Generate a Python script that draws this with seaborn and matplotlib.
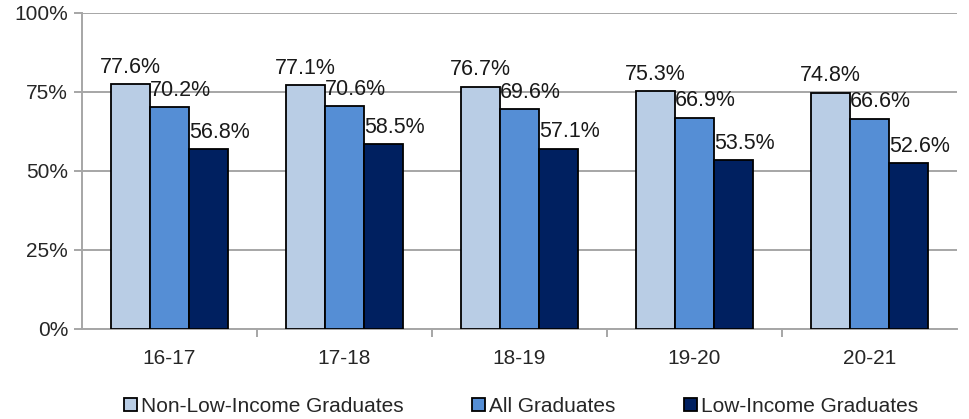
import matplotlib
matplotlib.use("Agg")
import matplotlib.pyplot as plt
import pandas as pd
import seaborn as sns
from matplotlib.ticker import PercentFormatter, FixedLocator

# data
years = ["16-17", "17-18", "18-19", "19-20", "20-21"]
series = ["Non-Low-Income Graduates", "All Graduates", "Low-Income Graduates"]
non_low_income = [77.6, 77.1, 76.7, 75.3, 74.8]
all_grads = [70.2, 70.6, 69.6, 66.9, 66.6]
low_income = [56.8, 58.5, 57.1, 53.5, 52.6]
colors = ["#B9CDE5", "#558ED5", "#002060"]

df = pd.DataFrame({
    "year": years * 3,
    "group": [s for s in series for _ in years],
    "value": non_low_income + all_grads + low_income,
})

sns.set_style("white")
plt.rcParams["font.family"] = ["Liberation Sans", "DejaVu Sans"]

fig = plt.figure(figsize=(9.69, 4.19), dpi=100)
ax = fig.add_axes([0.0846, 0.215, 0.903, 0.754])

sns.barplot(data=df, x="year", y="value", hue="group", hue_order=series,
            palette=colors, width=0.67, gap=0, edgecolor="black",
            linewidth=1.3, saturation=1, ax=ax, legend=True, zorder=3)

ax.set_ylim(0, 100)
ax.set_xlim(-0.5, len(years) - 0.5)
ax.set_yticks([0, 25, 50, 75, 100])
ax.yaxis.set_major_formatter(PercentFormatter(decimals=0))
ax.grid(axis="y", color="#A6A6A6", linewidth=1.4, zorder=0)
ax.set_axisbelow(True)
ax.set_xlabel("")
ax.set_ylabel("")

for side in ["top", "right"]:
    ax.spines[side].set_visible(False)
for side in ["left", "bottom"]:
    ax.spines[side].set_color("#A6A6A6")
    ax.spines[side].set_linewidth(1.4)

ax.tick_params(axis="y", left=True, length=6, width=1.4, color="#A6A6A6",
               labelsize=15, pad=4)
ax.tick_params(axis="x", bottom=False, labelsize=15, pad=11)
# minor ticks at the category boundaries
ax.xaxis.set_minor_locator(FixedLocator([i + 0.5 for i in range(len(years) - 1)]))
ax.tick_params(axis="x", which="minor", bottom=True, length=6, width=1.4,
               color="#A6A6A6")

# value labels
for h, cont in enumerate(ax.containers):
    for bar in cont:
        v = bar.get_height()
        if h == 0:
            x, ha = bar.get_x() + bar.get_width() / 2, "center"
        else:
            x, ha = bar.get_x(), "left"
        ax.annotate(f"{v:.1f}%", (x, v), xytext=(0, 8), textcoords="offset points",
                    ha=ha, va="baseline", fontsize=15.5, color="#1a1a1a")

handles, labels = ax.get_legend_handles_labels()
ax.legend(handles, labels, loc="center", bbox_to_anchor=(0.502, -0.245), ncol=3,
          frameon=False, fontsize=15, handlelength=0.6, handleheight=0.6,
          handletextpad=0.2, columnspacing=3.3)

fig.savefig("out.png", dpi=100)
